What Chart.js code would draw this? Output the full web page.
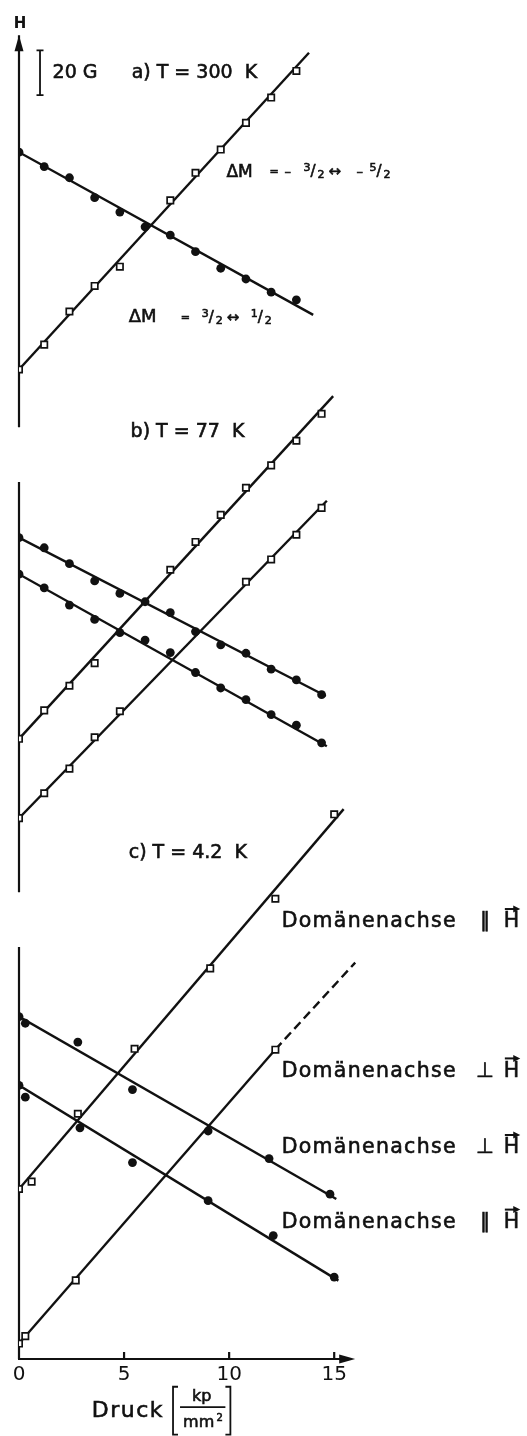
<!DOCTYPE html>
<html>
<head>
<meta charset="utf-8">
<script src="https://cdn.jsdelivr.net/npm/chart.js@4.4.1/dist/chart.umd.min.js"></script>
<style>
  html, body { margin: 0; padding: 0; background: #fff; }
  #graphCanvas { display: block; }
</style>
</head>
<body>
<canvas id="graphCanvas" width="527" height="1436"></canvas>
<script>
// Druck in kp/mm2, H in Gauss (ein gemeinsamer Nullpunkt fuer alle drei Teilbilder)

// a) T = 300 K
const pA_fall = [0, 1.2, 2.4, 3.6, 4.8, 6.0, 7.2, 8.4, 9.6, 10.8, 12.0, 13.2];
const hA_fall = [538.8, 532.4, 527.4, 518.5, 512.1, 505.5, 501.8, 494.4, 487.0, 482.2, 476.3, 472.9];
const pA_rise = [0, 1.2, 2.4, 3.6, 4.8, 7.2, 8.4, 9.6, 10.8, 12.0, 13.2];
const hA_rise = [441.8, 452.9, 467.7, 479.1, 487.7, 517.3, 529.6, 540.0, 551.9, 563.2, 575.1];

// b) T = 77 K
const pB_fall = [0, 1.2, 2.4, 3.6, 4.8, 6.0, 7.2, 8.4, 9.6, 10.8, 12.0, 13.2, 14.4];
const hB_fall1 = [366.7, 362.2, 355.1, 347.4, 341.8, 338.1, 333.2, 324.8, 318.8, 315.1, 308.0, 303.2, 296.6];
const hB_fall2 = [350.4, 344.3, 336.6, 330.2, 324.3, 321.0, 315.4, 306.5, 299.6, 294.4, 287.7, 283.0, 275.1];
const pB_rise1 = [0, 1.2, 2.4, 3.6, 7.2, 8.4, 9.6, 10.8, 12.0, 13.2, 14.4];
const hB_rise1 = [276.9, 289.6, 300.6, 310.7, 352.4, 364.8, 376.9, 389.0, 399.0, 410.0, 422.0];
const pB_rise2 = [0, 1.2, 2.4, 3.6, 4.8, 10.8, 12.0, 13.2, 14.4];
const hB_rise2 = [241.5, 252.6, 263.6, 277.6, 289.2, 347.0, 357.0, 368.0, 380.0];

// c) T = 4.2 K
const pC_rise1 = [0, 0.6, 2.8, 5.5, 9.1, 12.2, 15.0];
const hC_rise1 = [75.9, 79.2, 109.5, 138.5, 174.4, 205.5, 243.2];
const pC_rise2 = [0, 0.3, 2.7, 12.2];
const hC_rise2 = [6.9, 10.2, 35.1, 138.1];
const pC_fall1 = [0, 0.3, 2.8, 5.4, 9.0, 11.9, 14.8];
const hC_fall1 = [152.9, 149.9, 141.5, 120.3, 101.8, 89.5, 73.6];
const pC_fall2 = [0, 0.3, 2.9, 5.4, 9.0, 12.1, 15.0];
const hC_fall2 = [122.2, 116.9, 103.2, 87.7, 70.7, 55.1, 36.6];

// Ausgleichsgeraden: [p0, H0, p1, H1]
const fitA_fall = [0, 538.8, 14.0, 466.2];
const fitA_rise = [0, 441.8, 13.8, 583.2];
const fitB_fall1 = [0, 366.7, 14.6, 296.0];
const fitB_fall2 = [0, 350.4, 14.65, 273.6];
const fitB_rise1 = [0, 276.9, 14.95, 429.9];
const fitB_rise2 = [0, 241.5, 14.65, 383.2];
const fitC_rise1 = [0, 75.9, 15.45, 245.5];
const fitC_rise2 = [0, 6.9, 12.2, 138.2];
const dashC_rise2 = [12.2, 138.2, 16.0, 177.0];
const fitC_fall1 = [0, 152.9, 15.1, 71.4];
const fitC_fall2 = [0, 122.2, 15.2, 35.0];

const xTicks = [0, 5, 10, 15];
const panelTitles = ['a) T = 300  K', 'b) T = 77  K', 'c) T = 4.2  K'];
const domainLabels = ['\u2225', '\u22A5', '\u22A5', '\u2225'];

const FONT = '"DejaVu Sans", sans-serif';
const INK = '#111';

function pts(xs, hs) {
  return xs.map((x, i) => ({ x: x, y: hs[i] }));
}
function fitLine(f, dash) {
  return {
    data: [{ x: f[0], y: f[1] }, { x: f[2], y: f[3] }],
    showLine: true, borderColor: INK, borderWidth: 2.4,
    pointRadius: 0, borderDash: dash || [], order: 3
  };
}
function dots(xs, hs) {
  return {
    data: pts(xs, hs), showLine: false, pointStyle: 'circle',
    pointRadius: 4.4, backgroundColor: INK, borderColor: INK, borderWidth: 0, order: 0
  };
}
function squares(xs, hs) {
  return {
    data: pts(xs, hs), showLine: false, pointStyle: 'rect',
    pointRadius: 4.5, backgroundColor: '#fff', borderColor: INK, borderWidth: 1.7, order: 1
  };
}

// Lage der Achsenstuecke (in H)
const axisPieces = [[416, 591], [208.4, 391.6], [0, 184]];

// etwas kraeftigere Schrift wie im Original
function txt(ctx, s, x, y) {
  ctx.fillText(s, x, y);
  ctx.lineWidth = 0.6;
  ctx.strokeText(s, x, y);
}

// Teile: [text, groesse, dy, dx ab Anfang]
function drawParts(ctx, x, y, parts) {
  for (const p of parts) {
    ctx.font = p[1] + 'px ' + FONT;
    txt(ctx, p[0], x + p[3], y + p[2]);
  }
}

function drawDomain(ctx, x, y, rel) {
  ctx.font = '20.5px ' + FONT;
  ctx.letterSpacing = '1.3px';
  const word = 'Dom\u00e4nenachse';
  ctx.textAlign = 'left';
  txt(ctx, word, x, y);
  const we = x + ctx.measureText(word).width;
  ctx.letterSpacing = '0px';
  ctx.textAlign = 'center';
  txt(ctx, rel, we + 28, y);
  ctx.textAlign = 'left';
  const hx = we + 47;
  txt(ctx, 'H', hx, y);
  const hw = ctx.measureText('H').width;
  const ay = y - 13;
  ctx.lineWidth = 2;
  ctx.beginPath();
  ctx.moveTo(hx + 1, ay);
  ctx.lineTo(hx + hw - 4, ay);
  ctx.stroke();
  ctx.beginPath();
  ctx.moveTo(hx + hw + 1, ay);
  ctx.lineTo(hx + hw - 6, ay - 3.5);
  ctx.lineTo(hx + hw - 6, ay + 3.5);
  ctx.closePath();
  ctx.fill();
}

const decor = {
  id: 'decor',
  beforeDatasetsDraw(chart) {
    const ctx = chart.ctx;
    const xs = chart.scales.x, ys = chart.scales.y;
    const x0 = xs.getPixelForValue(0);
    ctx.save();
    ctx.strokeStyle = INK; ctx.fillStyle = INK;
    ctx.lineWidth = 2.2;
    // H-Achse in drei Stuecken
    axisPieces.forEach(seg => {
      ctx.beginPath();
      ctx.moveTo(x0, ys.getPixelForValue(seg[0]));
      ctx.lineTo(x0, ys.getPixelForValue(seg[1]));
      ctx.stroke();
    });
    const tip = ys.getPixelForValue(591);
    ctx.beginPath();
    ctx.moveTo(x0, tip);
    ctx.lineTo(x0 - 4.5, tip + 16);
    ctx.lineTo(x0 + 4.5, tip + 16);
    ctx.closePath();
    ctx.fill();
    // Druck-Achse
    const yb = ys.getPixelForValue(0);
    const xe = xs.getPixelForValue(16.0);
    ctx.beginPath();
    ctx.moveTo(x0 - 1, yb);
    ctx.lineTo(xe - 10, yb);
    ctx.stroke();
    ctx.beginPath();
    ctx.moveTo(xe, yb);
    ctx.lineTo(xe - 16, yb - 4.5);
    ctx.lineTo(xe - 16, yb + 4.5);
    ctx.closePath();
    ctx.fill();
    xTicks.slice(1).forEach(v => {
      const tx = xs.getPixelForValue(v);
      ctx.beginPath();
      ctx.moveTo(tx, yb);
      ctx.lineTo(tx, yb - 7);
      ctx.stroke();
    });
    ctx.restore();
  },
  afterDatasetsDraw(chart) {
    const ctx = chart.ctx;
    const xs = chart.scales.x, ys = chart.scales.y;
    const X = v => xs.getPixelForValue(v);
    const Y = v => ys.getPixelForValue(v);
    ctx.save();
    ctx.fillStyle = INK; ctx.strokeStyle = INK;
    ctx.textBaseline = 'middle';
    ctx.textAlign = 'center';
    ctx.font = 'bold 15px ' + FONT;
    ctx.fillText('H', X(0) + 1, Y(596));

    // Massstab 20 G
    const bx = X(1.0);
    ctx.lineWidth = 1.8;
    ctx.beginPath();
    ctx.moveTo(bx, Y(564.3)); ctx.lineTo(bx, Y(584.3));
    ctx.moveTo(bx - 3.5, Y(564.3)); ctx.lineTo(bx + 3.5, Y(564.3));
    ctx.moveTo(bx - 3.5, Y(584.3)); ctx.lineTo(bx + 3.5, Y(584.3));
    ctx.stroke();

    ctx.textAlign = 'left';
    ctx.font = '19px ' + FONT;
    txt(ctx, '20 G', X(1.6), Y(574));
    txt(ctx, panelTitles[0], X(5.36), Y(574));
    txt(ctx, panelTitles[1], X(5.31), Y(413.8));
    txt(ctx, panelTitles[2], X(5.22), Y(225.8));

    // Uebergaenge
    drawParts(ctx, X(9.87), Y(529.9), [
      ['\u0394M', 17, 0, 0], ['=', 11, 0, 43], ['\u2013', 13, 0, 58],
      ['3', 11, -4, 77], ['/', 15, 0, 84], ['2', 11, 3, 91], ['\u2194', 15, 0, 102],
      ['\u2013', 13, 0, 130], ['5', 11, -4, 143], ['/', 15, 0, 150], ['2', 11, 3, 157]
    ]);
    drawParts(ctx, X(5.22), Y(464.9), [
      ['\u0394M', 18, 0, 0], ['=', 11, 0, 52],
      ['3', 11, -4, 73], ['/', 15, 0, 80], ['2', 11, 3, 87], ['\u2194', 15, 0, 98],
      ['1', 11, -4, 122], ['/', 15, 0, 129], ['2', 11, 3, 136]
    ]);

    // Domaenenachse
    const dy = [195.1, 128.4, 94.2, 60.9];
    dy.forEach((h, i) => drawDomain(ctx, X(12.5), Y(h), domainLabels[i]));

    // Achsentitel Druck [kp/mm2]
    ctx.textAlign = 'left';
    ctx.font = '22px ' + FONT;
    ctx.letterSpacing = '1.5px';
    txt(ctx, 'Druck', X(3.46), Y(-23.4));
    ctx.letterSpacing = '0px';
    const bl = X(7.33), br = X(10.06), bt = Y(-12.4), bbt = Y(-33.8);
    ctx.lineWidth = 1.8;
    ctx.beginPath();
    ctx.moveTo(bl + 5, bt); ctx.lineTo(bl, bt); ctx.lineTo(bl, bbt); ctx.lineTo(bl + 5, bbt);
    ctx.moveTo(br - 5, bt); ctx.lineTo(br, bt); ctx.lineTo(br, bbt); ctx.lineTo(br - 5, bbt);
    ctx.moveTo(bl + 7, Y(-21.5)); ctx.lineTo(br - 5, Y(-21.5));
    ctx.stroke();
    ctx.textAlign = 'center';
    ctx.font = '16px ' + FONT;
    txt(ctx, 'kp', X(8.7), Y(-16.9));
    txt(ctx, 'mm', X(8.55), Y(-28.6));
    ctx.font = '10px ' + FONT;
    txt(ctx, '2', X(9.55), Y(-26.4));
    ctx.restore();
  }
};

const ctx = document.getElementById('graphCanvas');

new Chart(ctx, {
  type: 'scatter',
  data: {
    datasets: [
      fitLine(fitA_fall), fitLine(fitA_rise),
      fitLine(fitB_fall1), fitLine(fitB_fall2), fitLine(fitB_rise1), fitLine(fitB_rise2),
      fitLine(fitC_rise1), fitLine(fitC_rise2), fitLine(dashC_rise2, [9, 5]),
      fitLine(fitC_fall1), fitLine(fitC_fall2),
      dots(pA_fall, hA_fall), squares(pA_rise, hA_rise),
      dots(pB_fall, hB_fall1), dots(pB_fall, hB_fall2),
      squares(pB_rise1, hB_rise1), squares(pB_rise2, hB_rise2),
      squares(pC_rise1, hC_rise1), squares(pC_rise2, hC_rise2),
      dots(pC_fall1, hC_fall1), dots(pC_fall2, hC_fall2)
    ]
  },
  options: {
    responsive: false,
    animation: false,
    devicePixelRatio: 1,
    events: [],
    layout: { padding: { left: 19, right: 0, top: 0, bottom: 49 } },
    plugins: { legend: { display: false }, tooltip: { enabled: false } },
    scales: {
      x: {
        type: 'linear', min: 0, max: 23.88,
        grid: { display: false, drawTicks: false }, border: { display: false },
        afterBuildTicks: s => { s.ticks = xTicks.map(v => ({ value: v })); },
        afterFit: s => { s.height = 28; },
        ticks: { color: INK, padding: 4, font: { family: FONT, size: 20 } }
      },
      y: { type: 'linear', min: 0, max: 604, display: false }
    }
  },
  plugins: [decor]
});
</script>
</body>
</html>
